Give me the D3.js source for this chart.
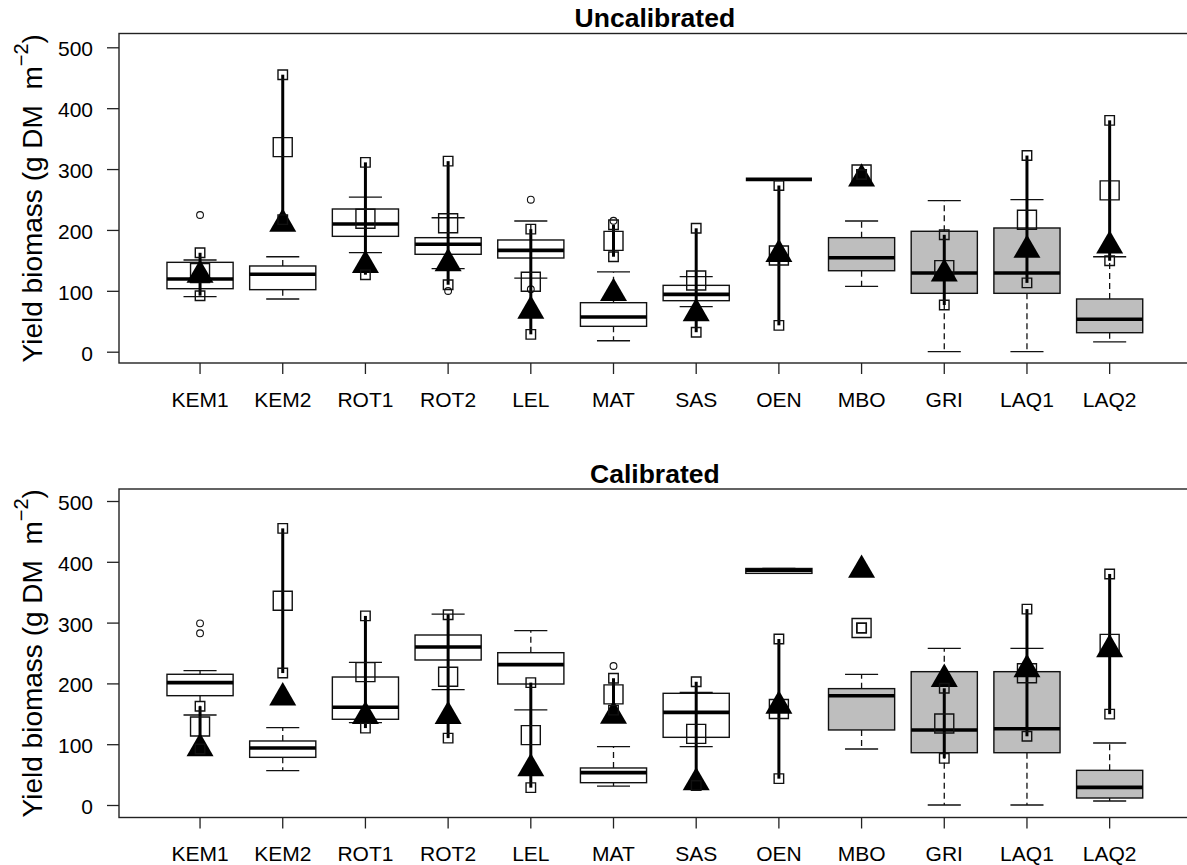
<!DOCTYPE html>
<html>
<head>
<meta charset="utf-8">
<script src="https://cdn.jsdelivr.net/npm/d3@7"></script>
<style>
  body { margin: 0; background: #fff; }
  svg { display: block; font-family: "Liberation Sans", Arial, sans-serif; }
</style>
</head>
<body>
<div id="chart"></div>
<script>
// sites along the x axis
const sites = ["KEM1", "KEM2", "ROT1", "ROT2", "LEL", "MAT", "SAS", "OEN", "MBO", "GRI", "LAQ1", "LAQ2"];
// these sites get grey boxes
const greySites = ["MBO", "GRI", "LAQ1", "LAQ2"];
const yTicks = [0, 100, 200, 300, 400, 500];

// observed yield (same for both panels)
const obsMin  = [92, 217, 126.5, 110, 28.5, 156, 32, 43.3, 291, 76.7, 113, 149.4];
const obsMean = [129, 336, 218.5, 211, 115, 182, 117, 158, 291, 134, 216.7, 265];
const obsMax  = [162.5, 455, 311, 313, 201.3, 208.5, 202.7, 273, 291, 192, 322.2, 380];

// uncalibrated runs: boxplot stats, outliers, reference simulation
const uncalLow  = [90.4, 86.6, 162.7, 136.4, 121, 18, 74, 283, 107.4, 0, 0, 16];
const uncalQ1   = [103.5, 101.9, 189.5, 160, 153.9, 41.7, 83.8, 283, 133, 95.9, 95.9, 31.2];
const uncalMed  = [119.4, 127.1, 209.8, 176.4, 166.5, 57, 94.2, 283, 154.4, 129.3, 129.3, 53.2];
const uncalQ3   = [146.8, 140.8, 234.4, 187.3, 183.5, 80.5, 109, 283, 187.3, 197.8, 203.2, 86.6];
const uncalHigh = [150.6, 156, 254, 220, 214.7, 131, 123.3, 283, 214.7, 248, 249.7, 156];
const uncalOut  = [[224.5], [], [], [99.7], [249.7, 102.5], [215], [], [], [], [], [], []];
const uncalSim  = [126, 210, 142, 145, 67, 96, 63, 160, 284, 128, 167, 174];

// calibrated runs
const calLow  = [148, 56.5, 135.4, 189.7, 156.3, 31.2, 95.9, 381, 92.1, 0, 0, 6.6];
const calQ1   = [179.8, 78.4, 141, 238.5, 199, 36.7, 111.3, 381, 123.4, 86, 86, 11.5];
const calMed  = [201.2, 93.8, 160.7, 259.9, 230.8, 53.2, 152.4, 386, 179.8, 123.4, 125.5, 29];
const calQ3   = [215, 105.3, 210.5, 279.6, 250.5, 60.9, 183.7, 389, 191.4, 219.3, 219.3, 57];
const calHigh = [221, 127.2, 234.7, 314.1, 286.7, 95.9, 185.3, 389, 215, 257.7, 257.7, 102];
const calOut  = [[282.4, 298.8], [], [], [], [], [228.6], [], [], [], [], [], []];
const calSim  = [93, 176.5, 146, 146, 60, 146.4, 37, 163, 386.5, 207, 223, 256];

const width = 1187, height = 865;

const svg = d3.select("#chart")
  .append("svg")
  .attr("width", width)
  .attr("height", height)
  .attr("viewBox", [0, 0, width, height]);

svg.append("rect").attr("width", width).attr("height", height).attr("fill", "#fff");

const x = d3.scaleBand()
  .domain(sites)
  .range([158.7, 1151])
  .paddingInner(0.2)
  .paddingOuter(0.1);
const bw = x.bandwidth();
const cx = s => x(s) + bw / 2;

const panels = [
  { title: "Uncalibrated", top: 33.5, bottom: 363, y0: 351.7, y500: 47.3,
    low: uncalLow, q1: uncalQ1, med: uncalMed, q3: uncalQ3, high: uncalHigh, out: uncalOut, sim: uncalSim },
  { title: "Calibrated", top: 489, bottom: 817.5, y0: 805, y500: 501,
    low: calLow, q1: calQ1, med: calMed, q3: calQ3, high: calHigh, out: calOut, sim: calSim }
];

const left = 119, right = 1190.7;
const ink = "#111";

panels.forEach(p => {
  const y = d3.scaleLinear().domain([0, 500]).range([p.y0, p.y500]);
  const g = svg.append("g");

  const rows = sites.map((s, i) => ({
    site: s, low: p.low[i], q1: p.q1[i], med: p.med[i], q3: p.q3[i], high: p.high[i],
    out: p.out[i], sim: p.sim[i], omin: obsMin[i], omean: obsMean[i], omax: obsMax[i],
    grey: greySites.includes(s)
  }));

  // boxplots
  const box = g.selectAll(".box")
    .data(rows)
    .join("g")
    .attr("class", "box");

  box.append("line")
    .attr("x1", d => cx(d.site)).attr("x2", d => cx(d.site))
    .attr("y1", d => y(d.q3)).attr("y2", d => y(d.high))
    .attr("stroke", ink).attr("stroke-width", 1.3).attr("stroke-dasharray", "6,4");
  box.append("line")
    .attr("x1", d => cx(d.site)).attr("x2", d => cx(d.site))
    .attr("y1", d => y(d.q1)).attr("y2", d => y(d.low))
    .attr("stroke", ink).attr("stroke-width", 1.3).attr("stroke-dasharray", "6,4");

  box.append("line")
    .attr("x1", d => cx(d.site) - bw / 4).attr("x2", d => cx(d.site) + bw / 4)
    .attr("y1", d => y(d.high)).attr("y2", d => y(d.high))
    .attr("stroke", ink).attr("stroke-width", 1.3);
  box.append("line")
    .attr("x1", d => cx(d.site) - bw / 4).attr("x2", d => cx(d.site) + bw / 4)
    .attr("y1", d => y(d.low)).attr("y2", d => y(d.low))
    .attr("stroke", ink).attr("stroke-width", 1.3);

  box.append("rect")
    .attr("x", d => x(d.site))
    .attr("width", bw)
    .attr("y", d => y(d.q3))
    .attr("height", d => y(d.q1) - y(d.q3))
    .attr("fill", d => d.grey ? "#bebebe" : "#fff")
    .attr("stroke", ink).attr("stroke-width", 1.4);

  box.append("line")
    .attr("x1", d => x(d.site)).attr("x2", d => x(d.site) + bw)
    .attr("y1", d => y(d.med)).attr("y2", d => y(d.med))
    .attr("stroke", "#000").attr("stroke-width", 3.6);

  box.selectAll(".outlier")
    .data(d => d.out.map(v => ({site: d.site, v})))
    .join("circle")
    .attr("class", "outlier")
    .attr("cx", d => cx(d.site))
    .attr("cy", d => y(d.v))
    .attr("r", 3.4)
    .attr("fill", "none")
    .attr("stroke", ink).attr("stroke-width", 1.1);

  // observed range and mean
  g.selectAll(".obsline")
    .data(rows)
    .join("line")
    .attr("class", "obsline")
    .attr("x1", d => cx(d.site)).attr("x2", d => cx(d.site))
    .attr("y1", d => y(d.omin)).attr("y2", d => y(d.omax))
    .attr("stroke", "#000").attr("stroke-width", 3);

  g.selectAll(".obsmean")
    .data(rows)
    .join("path")
    .attr("class", "obsmean")
    .attr("d", d3.symbol(d3.symbolSquare, 19 * 19))
    .attr("transform", d => `translate(${cx(d.site)},${y(d.omean)})`)
    .attr("fill", "none")
    .attr("stroke", ink).attr("stroke-width", 1.4);

  g.selectAll(".sim")
    .data(rows)
    .join("path")
    .attr("class", "sim")
    .attr("d", d3.symbol(d3.symbolTriangle, 316))
    .attr("transform", d => `translate(${cx(d.site)},${y(d.sim)})`)
    .attr("fill", "#000");

  const ends = rows.flatMap(d => [{site: d.site, v: d.omin}, {site: d.site, v: d.omax}]);
  g.selectAll(".obsend")
    .data(ends)
    .join("path")
    .attr("class", "obsend")
    .attr("d", d3.symbol(d3.symbolSquare, 9.5 * 9.5))
    .attr("transform", d => `translate(${cx(d.site)},${y(d.v)})`)
    .attr("fill", "none")
    .attr("stroke", ink).attr("stroke-width", 1.4);

  // frame
  g.append("rect")
    .attr("x", left).attr("y", p.top)
    .attr("width", right - left).attr("height", p.bottom - p.top)
    .attr("fill", "none")
    .attr("stroke", "#222").attr("stroke-width", 1.4);

  // axes
  const yAxis = g.append("g")
    .attr("transform", `translate(${left},0)`)
    .call(d3.axisLeft(y).tickValues(yTicks).tickSize(12).tickPadding(14));
  yAxis.select(".domain").remove();
  yAxis.selectAll("line").attr("stroke", "#222").attr("stroke-width", 1.3);
  yAxis.selectAll("text")
    .attr("font-size", 21).attr("font-family", null).attr("fill", "#000")
    .attr("dy", "0.4em");

  const xAxis = g.append("g")
    .attr("transform", `translate(0,${p.bottom})`)
    .call(d3.axisBottom(x).tickSize(11).tickSizeOuter(0));
  xAxis.select(".domain").remove();
  xAxis.selectAll("line").attr("stroke", "#222").attr("stroke-width", 1.3);
  xAxis.selectAll("text")
    .attr("font-size", 21).attr("font-family", null).attr("fill", "#000")
    .attr("y", 43.7).attr("dy", null);
  xAxis.attr("font-family", null);
  yAxis.attr("font-family", null);

  // title
  g.append("text")
    .attr("x", (left + right) / 2)
    .attr("y", p.top - 6.2)
    .attr("text-anchor", "middle")
    .attr("font-weight", "bold")
    .attr("font-size", 26.5)
    .text(p.title);

  // y label
  const lab = g.append("text")
    .attr("transform", `translate(42,${(p.top + p.bottom) / 2}) rotate(-90)`)
    .attr("text-anchor", "middle")
    .attr("font-size", 28)
    .attr("fill", "#000");
  lab.append("tspan").text("Yield biomass (g DM\u00a0\u00a0m");
  lab.append("tspan").attr("dy", -14).attr("font-size", 20).text("\u22122");
  lab.append("tspan").attr("dy", 14).text(")");
});
</script>
</body>
</html>
